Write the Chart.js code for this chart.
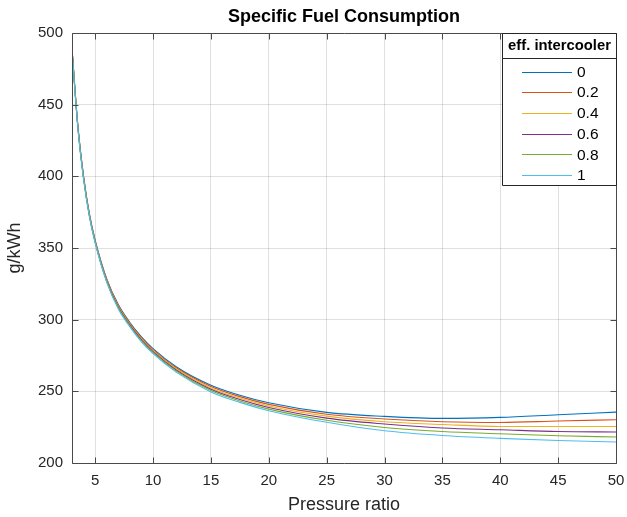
<!DOCTYPE html>
<html lang="en">
  <head>
    <meta charset="UTF-8" />
    <title>Specific Fuel Consumption</title>
    <style>
      body {
        margin: 0;
        background-color: #ffffff;
      }
      .chart-container {
        width: 627px;
        height: 517px;
      }
    </style>
  </head>
  <body>
    <div class="chart-container">
      <canvas id="sfcChart" width="627" height="517"></canvas>
    </div>
    <script src="https://cdn.jsdelivr.net/npm/chart.js"></script>
    <script>
      // pressure ratio (x) and g/kWh for each intercooler effectiveness
      const pressureRatio = [3, 3.5, 4, 4.5, 5, 6, 7, 8, 9, 10, 12, 15, 17.5, 20, 25, 30, 35, 40, 45, 50];
      const effLabels = ["0", "0.2", "0.4", "0.6", "0.8", "1"];

      const sfcEff00 = [489, 436, 400, 374, 355.5, 328.5, 310.5, 298, 288, 279.8, 267.2, 254.3, 247.3, 242, 235.3, 232.5, 231.1, 231.8, 233.7, 235.5];
      const sfcEff02 = [488.8, 435.7, 399.6, 373.6, 355.1, 328, 309.9, 297.4, 287.3, 279.1, 266.4, 253.4, 246.3, 240.9, 234, 230.7, 228.8, 228.3, 229.3, 230.2];
      const sfcEff04 = [488.6, 435.4, 399.2, 373.2, 354.7, 327.5, 309.3, 296.8, 286.6, 278.4, 265.7, 252.4, 245.3, 239.8, 232.7, 228.8, 226.9, 225.5, 225.5, 225.5];
      const sfcEff06 = [488.4, 435.1, 398.8, 372.8, 354.3, 327, 308.7, 296.2, 285.9, 277.7, 264.9, 251.5, 244.3, 238.7, 231.3, 227.2, 224.4, 223.2, 222, 221.6];
      const sfcEff08 = [488.2, 434.8, 398.4, 372.4, 353.9, 326.5, 308.1, 295.6, 285.2, 277, 264.2, 250.5, 243.3, 237.6, 229.8, 224.8, 222, 220.4, 219, 218.1];
      const sfcEff10 = [488, 434.5, 398, 372, 353.5, 326, 307.5, 295, 284.5, 276.3, 263.4, 249.6, 242.3, 236.5, 228.4, 222.5, 219.2, 217.2, 215.7, 214.6];

      const xTicks = [5, 10, 15, 20, 25, 30, 35, 40, 45, 50];
      const yTicks = [200, 250, 300, 350, 400, 450, 500];

      const series = [sfcEff00, sfcEff02, sfcEff04, sfcEff06, sfcEff08, sfcEff10];
      const colors = ["#0072BD", "#D95319", "#EDB120", "#7E2F8E", "#77AC30", "#4DBEEE"];

      const fontFamily = "'Liberation Sans', Arial, sans-serif";
      const textColor = "#262626";

      const datasets = series.map((vals, i) => ({
        label: effLabels[i],
        data: vals.map((v, j) => ({ x: pressureRatio[j], y: v })),
        borderColor: colors[i],
        backgroundColor: colors[i],
        borderWidth: 1.1,
        pointRadius: 0,
        fill: false,
        cubicInterpolationMode: "monotone",
        order: series.length - i,
      }));

      // MATLAB-like box, inner ticks, title, axis labels and legend
      const matlabFrame = {
        id: "matlabFrame",
        afterDraw(chart) {
          const ctx = chart.ctx;
          const a = chart.chartArea;
          const xs = chart.scales.x;
          const ys = chart.scales.y;
          const L = Math.round(a.left) + 0.5;
          const R = Math.round(a.right) + 0.5;
          const T = Math.round(a.top) + 0.5;
          const B = Math.round(a.bottom) + 0.5;
          const tl = 6;

          ctx.save();
          ctx.strokeStyle = "#4a4a4a";
          ctx.lineWidth = 1;
          ctx.beginPath();
          ctx.rect(L, T, R - L, B - T);
          xTicks.forEach((v) => {
            const px = Math.round(xs.getPixelForValue(v)) + 0.5;
            ctx.moveTo(px, B);
            ctx.lineTo(px, B - tl);
            ctx.moveTo(px, T);
            ctx.lineTo(px, T + tl);
          });
          yTicks.forEach((v) => {
            const py = Math.round(ys.getPixelForValue(v)) + 0.5;
            ctx.moveTo(L, py);
            ctx.lineTo(L + tl, py);
            ctx.moveTo(R, py);
            ctx.lineTo(R - tl, py);
          });
          ctx.stroke();

          // title
          ctx.fillStyle = "#000000";
          ctx.font = "bold 18px " + fontFamily;
          ctx.textAlign = "center";
          ctx.textBaseline = "middle";
          ctx.fillText("Specific Fuel Consumption", (a.left + a.right) / 2, 17);

          // axis labels
          ctx.fillStyle = textColor;
          ctx.font = "18px " + fontFamily;
          ctx.fillText("Pressure ratio", (a.left + a.right) / 2, 505);
          ctx.save();
          ctx.translate(15, (a.top + a.bottom) / 2);
          ctx.rotate(-Math.PI / 2);
          ctx.fillText("g/kWh", 0, 0);
          ctx.restore();

          // legend
          const lx = 502.5, ly = T, lw = R - 502.5, lh = 152;
          ctx.fillStyle = "#ffffff";
          ctx.fillRect(lx, ly, lw, lh);
          ctx.strokeStyle = "#262626";
          ctx.beginPath();
          ctx.rect(lx, ly, lw, lh);
          ctx.moveTo(lx, 58.5);
          ctx.lineTo(lx + lw, 58.5);
          ctx.stroke();
          ctx.fillStyle = "#000000";
          ctx.font = "bold 14.8px " + fontFamily;
          ctx.textAlign = "center";
          ctx.fillText("eff. intercooler", lx + lw / 2, 46);
          ctx.font = "15.5px " + fontFamily;
          ctx.textAlign = "left";
          effLabels.forEach((lab, i) => {
            const yy = 71.5 + i * 20.7;
            ctx.strokeStyle = colors[i];
            ctx.lineWidth = 1.1;
            ctx.beginPath();
            ctx.moveTo(522, Math.round(yy) + 0.5);
            ctx.lineTo(572, Math.round(yy) + 0.5);
            ctx.stroke();
            ctx.fillStyle = "#000000";
            ctx.fillText(lab, 577, yy + 1);
          });
          ctx.restore();
        },
      };

      const sfcChart = new Chart(document.getElementById("sfcChart"), {
        type: "line",
        data: { datasets: datasets },
        options: {
          responsive: false,
          animation: false,
          layout: { padding: { top: 33, right: 11, left: 0, bottom: 0 } },
          plugins: {
            legend: { display: false },
            title: { display: false },
            tooltip: { enabled: false },
          },
          scales: {
            x: {
              type: "linear",
              min: 3,
              max: 50,
              afterBuildTicks: (s) => {
                s.ticks = xTicks.map((v) => ({ value: v }));
              },
              afterFit: (s) => {
                s.height = 54;
                s.paddingLeft = 0;
                s.paddingRight = 0;
              },
              grid: { color: "rgba(38,38,38,0.14)", drawTicks: false },
              border: { display: false },
              ticks: {
                color: textColor,
                font: { family: fontFamily, size: 15 },
                padding: 9,
                maxRotation: 0,
              },
            },
            y: {
              type: "linear",
              min: 200,
              max: 500,
              afterBuildTicks: (s) => {
                s.ticks = yTicks.map((v) => ({ value: v }));
              },
              afterFit: (s) => {
                s.width = 72;
                s.paddingTop = 0;
                s.paddingBottom = 0;
              },
              grid: { color: "rgba(38,38,38,0.14)", drawTicks: false },
              border: { display: false },
              ticks: {
                color: textColor,
                font: { family: fontFamily, size: 15 },
                padding: 9,
              },
            },
          },
        },
        plugins: [matlabFrame],
      });
    </script>
  </body>
</html>
